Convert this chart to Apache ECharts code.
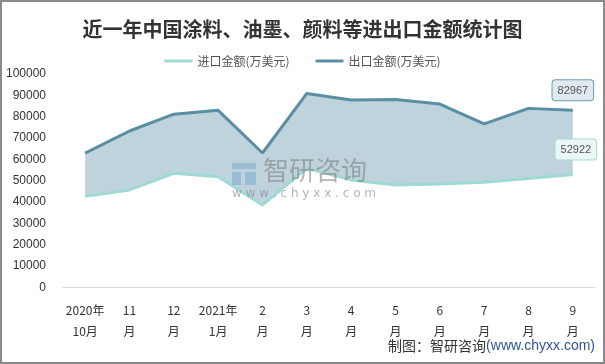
<!DOCTYPE html>
<html><head><meta charset="utf-8">
<script src="https://cdn.jsdelivr.net/npm/echarts@6/dist/echarts.min.js"></script>
<style>html,body{margin:0;padding:0;background:#fff}#c{width:605px;height:364px}</style>
</head><body><div id="c"></div>
<script>
const categories = ['2020年\n10月','11\n月','12\n月','2021年\n1月','2\n月','3\n月','4\n月','5\n月','6\n月','7\n月','8\n月','9\n月'];
const importValues = [42700, 45700, 53500, 51900, 38700, 55800, 50400, 48000, 48500, 49300, 51000, 52922];
const exportValues = [62900, 73300, 81200, 83000, 63000, 90900, 87800, 88100, 85900, 76600, 83900, 82967];
const yTicks = [0,10000,20000,30000,40000,50000,60000,70000,80000,90000,100000];

const gap = exportValues.map((v,i)=>v-importValues[i]);
const chart = echarts.init(document.getElementById('c'), null, {renderer:'canvas'});
const lastIdx = categories.length - 1;
const endLabel = (bg,border,off)=>({show:true,position:'top',offset:off,
  color:'#555',fontSize:11,fontFamily:'"Liberation Sans"',backgroundColor:bg,borderColor:border,borderWidth:1,borderRadius:3,padding:[5,5,4,5]});
const withEnd = (arr,lbl)=>arr.map((v,i)=>i===lastIdx?{value:v,label:lbl}:v);
const wmBlue = 'rgba(125,170,205,0.55)';
chart.setOption({
  animation:false,
  backgroundColor:'#fff',
  title:{text:'近一年中国涂料、油墨、颜料等进出口金额统计图',left:'center',top:14,
    textStyle:{fontFamily:'"Noto Sans CJK SC"',fontSize:20,fontWeight:'bold',color:'#333'}},
  legend:{top:50,left:'center',itemWidth:28,itemHeight:3,itemGap:26,
    textStyle:{fontFamily:'"Noto Sans CJK SC"',fontSize:12,color:'#555'},
    data:[{name:'进口金额(万美元)',icon:'roundRect'},{name:'出口金额(万美元)',icon:'roundRect'}]},
  grid:{left:63,right:10,top:74,bottom:76.5},
  xAxis:{type:'category',data:categories,boundaryGap:true,
    axisLine:{lineStyle:{color:'#d9d9d9'}},axisTick:{show:false},
    axisLabel:{color:'#333',fontSize:12,lineHeight:21,margin:12,interval:0,fontFamily:'"Noto Sans CJK SC"'}},
  yAxis:{type:'value',min:yTicks[0],max:yTicks[yTicks.length-1],interval:10000,
    splitLine:{show:false},axisLine:{show:false},axisTick:{show:false},
    axisLabel:{color:'#333',fontSize:12,margin:17,fontFamily:'"Liberation Sans"',formatter:v=>String(v)}},
  series:[
    {name:'base',type:'line',stack:'s',data:importValues,symbol:'none',lineStyle:{width:0},silent:true,z:1},
    {name:'gap',type:'line',stack:'s',data:gap,symbol:'none',lineStyle:{width:0},areaStyle:{color:'#bfd3dd',opacity:1},silent:true,z:1},
    {name:'出口金额(万美元)',type:'line',data:withEnd(exportValues,endLabel('#dfe9ef','#6f9cb0',[0,-5])),
      symbol:'circle',symbolSize:0,showSymbol:true,z:3,label:{show:false},
      lineStyle:{color:'#5a8ea3',width:3},itemStyle:{color:'#5a8ea3'}},
    {name:'进口金额(万美元)',type:'line',data:withEnd(importValues,endLabel('#eaf7f6','#a6dcd6',[3,-10])),
      symbol:'circle',symbolSize:0,showSymbol:true,z:3,label:{show:false},
      lineStyle:{color:'#9fd9d4',width:3},itemStyle:{color:'#9fd9d4'}}
  ],
  graphic:[
    {type:'rect',z:100,shape:{x:1,y:1,width:603,height:362},style:{fill:'none',stroke:'#8a8a8a',lineWidth:2}},
    {type:'rect',z:100,left:232,top:163,shape:{width:24,height:6},style:{fill:wmBlue}},
    {type:'rect',z:100,left:232,top:172,shape:{width:9,height:13},style:{fill:wmBlue}},
    {type:'rect',z:100,left:245,top:172,shape:{width:11,height:13},style:{fill:wmBlue}},
    {type:'text',z:100,left:263,top:157,style:{text:'智研咨询',fontSize:26,fill:'rgba(130,130,130,0.6)',fontFamily:'"Noto Sans CJK SC"'}},
    {type:'text',z:100,left:232,top:188,style:{text:'w w w . c h y x x . c o m',fontSize:12,fill:'rgba(130,130,130,0.6)',fontFamily:'"DejaVu Sans"'}},
    {type:'text',z:100,right:10,top:339,style:{rich:{a:{fontSize:14,fill:'#333',fontFamily:'"Noto Sans CJK SC"'},b:{fontSize:14,fill:'#2f5597',fontFamily:'"Liberation Sans"'}},text:'{a|制图：智研咨询}{b|(www.chyxx.com)}'}}
  ]
});
</script></body></html>
